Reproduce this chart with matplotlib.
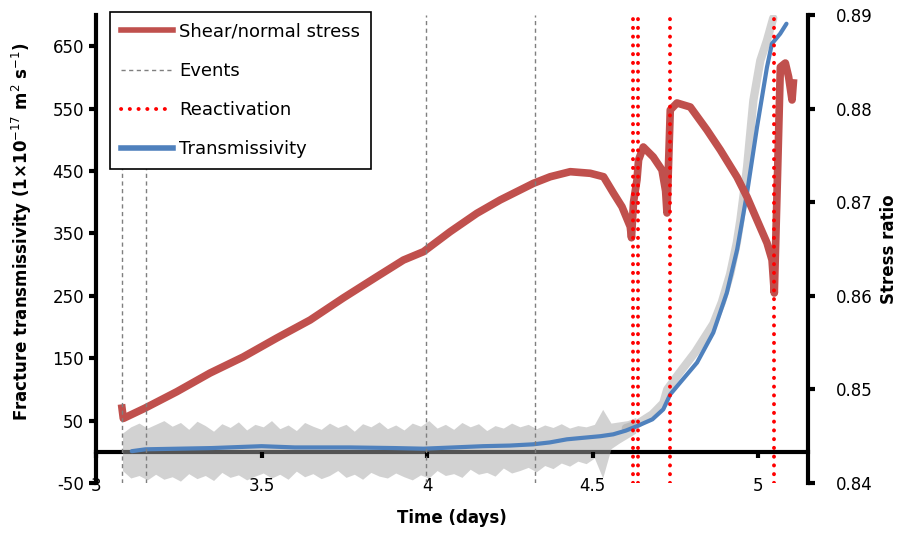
import matplotlib.pyplot as plt
from matplotlib.lines import Line2D
import numpy as np

# shear/normal stress ratio (right axis)
stress_t = [3.0785, 3.0825, 3.148, 3.2438, 3.3444, 3.4441, 3.5459, 3.6465, 3.7462, 3.848,
            3.9284, 3.9888, 4.0695, 4.150, 4.2205, 4.3211, 4.3716, 4.432, 4.4924, 4.5326,
            4.5628, 4.5882, 4.6133, 4.6170, 4.6233, 4.6335, 4.6384, 4.6526, 4.6828, 4.7091,
            4.7200, 4.7242, 4.7341, 4.7544, 4.7946, 4.845, 4.8852, 4.9356, 4.9659, 4.996,
            5.0263, 5.0414, 5.0483, 5.0565, 5.0665, 5.0816, 5.0915, 5.1018, 5.1057]
stress = [0.8480, 0.8469, 0.8480, 0.84975, 0.85175, 0.85346, 0.85549, 0.85741, 0.85976, 0.86204,
          0.86382, 0.86471, 0.86685, 0.86881, 0.87024, 0.87202, 0.87272, 0.87326, 0.87309, 0.87272,
          0.87095, 0.86952, 0.86738, 0.8662, 0.87005, 0.87237, 0.87451, 0.87590, 0.87483, 0.87344,
          0.8712, 0.86885, 0.87985, 0.88060, 0.88017, 0.87771, 0.87558, 0.87269, 0.87056, 0.86810,
          0.86564, 0.86382, 0.86030, 0.87098, 0.88444, 0.88487, 0.88338, 0.88092, 0.88274]

# smoothed transmissivity (left axis)
trans_t = [3.108, 3.15, 3.25, 3.35, 3.5, 3.6, 3.767, 3.9, 3.989, 4.08, 4.169, 4.25, 4.32, 4.37,
           4.422, 4.462, 4.523, 4.562, 4.6, 4.633, 4.68, 4.713, 4.734, 4.764, 4.815, 4.864,
           4.905, 4.936, 4.966, 4.996, 5.026, 5.041, 5.066, 5.085]
trans = [1, 4, 5, 6, 9, 7, 7, 6, 5, 7, 9, 10, 12, 15, 20, 22, 25, 28, 34, 41, 52, 68, 92, 111,
         143, 191, 255, 324, 415, 520, 616, 654, 670, 686]

# raw transmissivity: noisy band, then rising curve
noise_t = [3.080, 3.105, 3.130, 3.155, 3.180, 3.205, 3.230, 3.255, 3.280, 3.305, 3.330, 3.355,
           3.380, 3.405, 3.430, 3.455, 3.480, 3.505, 3.530, 3.555, 3.580, 3.605, 3.630, 3.655,
           3.680, 3.705, 3.730, 3.755, 3.780, 3.805, 3.830, 3.855, 3.880, 3.905, 3.930, 3.955,
           3.980, 4.005, 4.030, 4.055, 4.080, 4.105, 4.130, 4.155, 4.180, 4.205, 4.230, 4.255,
           4.280, 4.305, 4.330, 4.355, 4.380, 4.405, 4.430, 4.455, 4.480, 4.505, 4.530, 4.555,
           4.580, 4.605, 4.630]
noise_hi = [30, 40, 46, 38, 44, 50, 41, 47, 36, 49, 42, 33, 45, 39, 48, 35, 44, 40, 50, 37, 43,
            34, 47, 41, 36, 46, 39, 44, 33, 45, 40, 48, 37, 43, 35, 46, 41, 50, 38, 44, 36, 47,
            40, 45, 34, 42, 38, 46, 40, 44, 37, 43, 39, 45, 38, 42, 40, 44, 68, 46, 48, 50, 55]
noise_lo = [-30, -42, -38, -45, -36, -44, -40, -47, -35, -43, -38, -46, -33, -41, -37, -45, -39,
            -34, -42, -36, -44, -31, -40, -35, -43, -38, -30, -41, -36, -44, -33, -39, -42, -34,
            -40, -45, -37, -42, -30, -38, -35, -41, -28, -36, -33, -39, -26, -34, -30, -25, -32,
            -22, -27, -18, -23, -15, -19, -10, -42, 5, 14, 22, 30]
raw_t = [4.600, 4.633, 4.680, 4.713, 4.725, 4.764, 4.810, 4.864, 4.890, 4.915, 4.935, 4.946,
         4.966, 4.985, 5.006, 5.026, 5.045]
raw = [38, 44, 60, 78, 100, 128, 160, 205, 240, 285, 335, 372, 456, 563, 627, 659, 695]

events = [3.08, 3.15, 3.995, 4.325]
reactivation = [4.621, 4.638, 4.732, 5.048]

left_ticks = [-50, 50, 150, 250, 350, 450, 550, 650]
right_ticks = [0.84, 0.85, 0.86, 0.87, 0.88, 0.89]
x_ticks = [3, 3.5, 4, 4.5, 5]

red = '#C0504D'
blue = '#4F81BD'

plt.rcParams['font.family'] = 'DejaVu Sans'
plt.rcParams['axes.unicode_minus'] = False
fig = plt.figure(figsize=(9.02, 5.35), dpi=100)
ax = fig.add_axes([96/902, 52/535, 712/902, 468/535])
ax2 = ax.twinx()

ax.fill_between(noise_t, noise_lo, noise_hi, color='#a6a6a6', alpha=0.5, lw=0, zorder=1)
ax.plot(raw_t, raw, color='#a6a6a6', alpha=0.5, lw=6, solid_capstyle='round', zorder=1)
ax.plot(trans_t, trans, color=blue, lw=3, solid_capstyle='round', zorder=3)

ax2.plot(stress_t, stress, color=red, lw=5.5, zorder=2)
for t in events:
    ax2.axvline(t, color='#7f7f7f', lw=1, dashes=(3, 2.5), zorder=3)
for t in reactivation:
    ax2.axvline(t, color='#ff0000', lw=2.8, dashes=(0.05, 2.2), dash_capstyle='round', zorder=4)

ax.set_xlim(3, 5.15)
ax.set_ylim(-50, 700)
ax2.set_ylim(0.84, 0.89)

ax.set_xticks(x_ticks)
ax.set_xticklabels(['3', '3.5', '4', '4.5', '5'])
ax.set_yticks(left_ticks)
ax2.set_yticks(right_ticks)
ax2.set_yticklabels(['%.2f' % v for v in right_ticks])

for s in ['top', 'right']:
    ax.spines[s].set_visible(False)
for s in ['top', 'left', 'bottom']:
    ax2.spines[s].set_visible(False)
ax.spines['left'].set_linewidth(3)
ax.spines['bottom'].set_position(('data', 0))
ax.spines['bottom'].set_linewidth(3)
ax.spines['bottom'].set_zorder(0.5)
ax2.spines['right'].set_linewidth(3)

ax.tick_params(axis='x', direction='out', length=4, width=3, pad=14, labelsize=12)
ax.tick_params(axis='y', direction='out', length=5, width=3, labelsize=12)
ax2.tick_params(axis='y', direction='out', length=5, width=3, pad=15, labelsize=12)

fig.text(22/902, 1 - 232/535, 'Fracture transmissivity (1×10$^{-17}$ m$^2$ s$^{-1}$)',
         rotation=90, ha='center', va='center', fontsize=12, fontweight='bold')
fig.text(889/902, 1 - 249/535, 'Stress ratio', rotation=90, ha='center', va='center',
         fontsize=12, fontweight='bold')
fig.text(452/902, 1 - 518/535, 'Time (days)', ha='center', va='center',
         fontsize=12, fontweight='bold')

handles = [Line2D([], [], color=red, lw=4),
           Line2D([], [], color='#7f7f7f', lw=1, dashes=(3, 2.5)),
           Line2D([], [], color='#ff0000', lw=2.8, dashes=(0.05, 2.2), dash_capstyle='round'),
           Line2D([], [], color=blue, lw=4)]
leg = ax2.legend(handles, ['Shear/normal stress', 'Events', 'Reactivation', 'Transmissivity'],
                 loc='upper left', bbox_to_anchor=(0.02, 1.007), borderaxespad=0,
                 fontsize=13, handlelength=2.9, handletextpad=0.3, labelspacing=1.18,
                 borderpad=0.6, fancybox=False, framealpha=1, edgecolor='black')
leg.get_frame().set_linewidth(1.2)
leg.set_zorder(10)

fig.savefig('out.png', dpi=100)
